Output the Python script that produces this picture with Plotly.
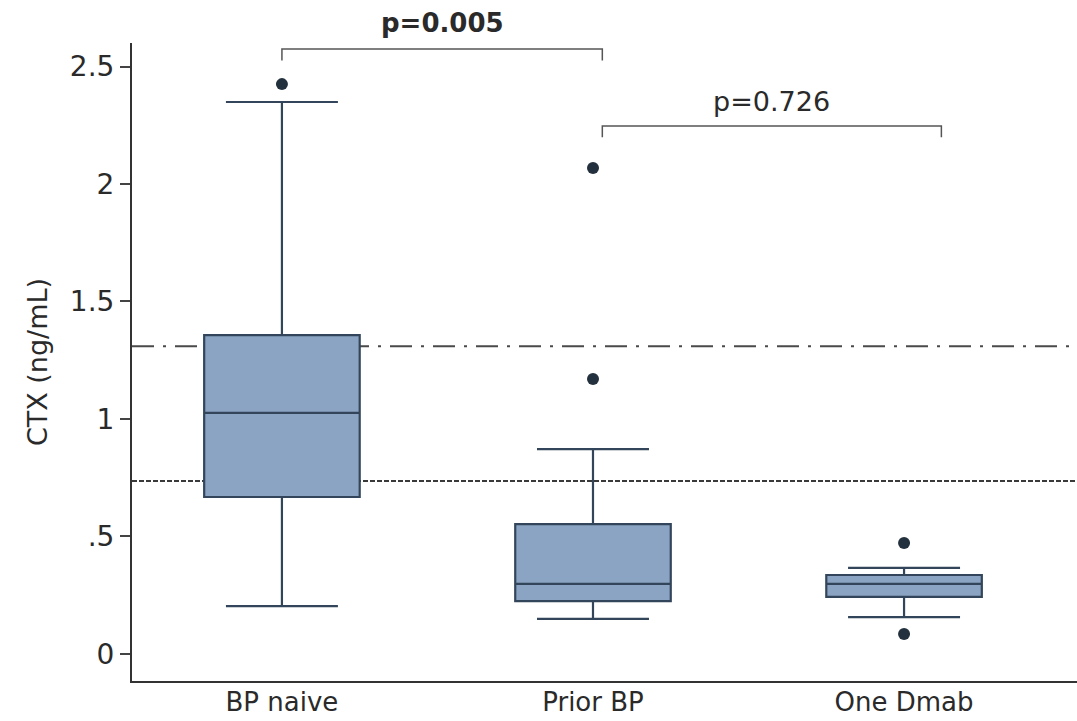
import plotly.graph_objects as go

# Serum CTX by treatment group (box summaries)
groups = ["BP naive", "Prior BP", "One Dmab"]
q1 = [0.668, 0.225, 0.243]
median = [1.026, 0.298, 0.298]
q3 = [1.357, 0.553, 0.336]
lower_whisker = [0.204, 0.149, 0.157]
upper_whisker = [2.349, 0.872, 0.366]

# Outlying observations
outlier_group = ["BP naive", "Prior BP", "Prior BP", "One Dmab", "One Dmab"]
outlier_value = [2.425, 2.068, 1.17, 0.472, 0.085]

# Reference limits
ref_dashdot = 1.31
ref_dotted = 0.736

# Pairwise comparisons: (left, right, bracket level, label, bold)
comparisons = [
    (0.0, 1.03, 2.574, "p=0.005", True),
    (1.03, 2.12, 2.247, "p=0.726", False),
]
label_level = [2.685, 2.349]

yticks = [0, 0.5, 1, 1.5, 2, 2.5]
yticktext = ["0", ".5", "1", "1.5", "2", "2.5"]

FONT = "DejaVu Sans"
DARK = "#2a2a2a"
Y_RANGE = [-0.115, 2.6]


def to_paper(v):
    return (v - Y_RANGE[0]) / (Y_RANGE[1] - Y_RANGE[0])


fig = go.Figure()

fig.add_trace(go.Box(
    x=groups,
    q1=q1, median=median, q3=q3,
    lowerfence=lower_whisker, upperfence=upper_whisker,
    boxpoints=False,
    width=0.5,
    whiskerwidth=0.72,
    fillcolor="#8ba4c3",
    line=dict(color="#33455a", width=2.2),
    hoverinfo="skip",
    showlegend=False,
))

fig.add_trace(go.Scatter(
    x=outlier_group, y=outlier_value,
    mode="markers",
    marker=dict(size=12, color="#23303d"),
    hoverinfo="skip",
    showlegend=False,
))

# Horizontal reference lines across the plot
fig.add_shape(type="line", xref="paper", yref="y", x0=0, x1=1,
              y0=ref_dashdot, y1=ref_dashdot, layer="below",
              line=dict(color="#4a4a4a", width=2, dash="22px,9px,3px,9px"))
fig.add_shape(type="line", xref="paper", yref="y", x0=0, x1=1,
              y0=ref_dotted, y1=ref_dotted, layer="below",
              line=dict(color="#3a3a3a", width=2, dash="5px,2px"))

# Comparison brackets with p-value labels
for (xa, xb, lvl, txt, bold), ty in zip(comparisons, label_level):
    drop = 0.048
    fig.add_shape(type="path", xref="x", yref="y",
                  path=f"M {xa},{lvl - drop} L {xa},{lvl} L {xb},{lvl} L {xb},{lvl - drop}",
                  line=dict(color="#555555", width=1.5))
    fig.add_annotation(x=(xa + xb) / 2, y=to_paper(ty), xref="x", yref="paper",
                       text=f"<b>{txt}</b>" if bold else txt,
                       showarrow=False, yanchor="middle",
                       font=dict(family=FONT, size=26 if bold else 27, color=DARK))

fig.update_layout(
    width=1077, height=721,
    margin=dict(l=132, r=0, t=43, b=40),
    paper_bgcolor="white", plot_bgcolor="white",
    font=dict(family=FONT, color=DARK),
)

fig.update_xaxes(
    type="category",
    range=[-0.482, 2.556],
    showline=True, linecolor="#333333", linewidth=2,
    ticks="", showgrid=False, zeroline=False,
    tickfont=dict(family=FONT, size=26, color=DARK),
    ticklabelstandoff=-3,
    automargin=False,
)

fig.update_yaxes(
    range=Y_RANGE,
    tickvals=yticks, ticktext=yticktext,
    showline=True, linecolor="#333333", linewidth=2,
    ticks="outside", ticklen=10, tickwidth=1.5, tickcolor="#444444",
    showgrid=False, zeroline=False,
    tickfont=dict(family=FONT, size=28, color=DARK),
    title=dict(text="CTX (ng/mL)", font=dict(family=FONT, size=27, color=DARK), standoff=14),
    automargin=False,
)

fig.write_html("out.html")
